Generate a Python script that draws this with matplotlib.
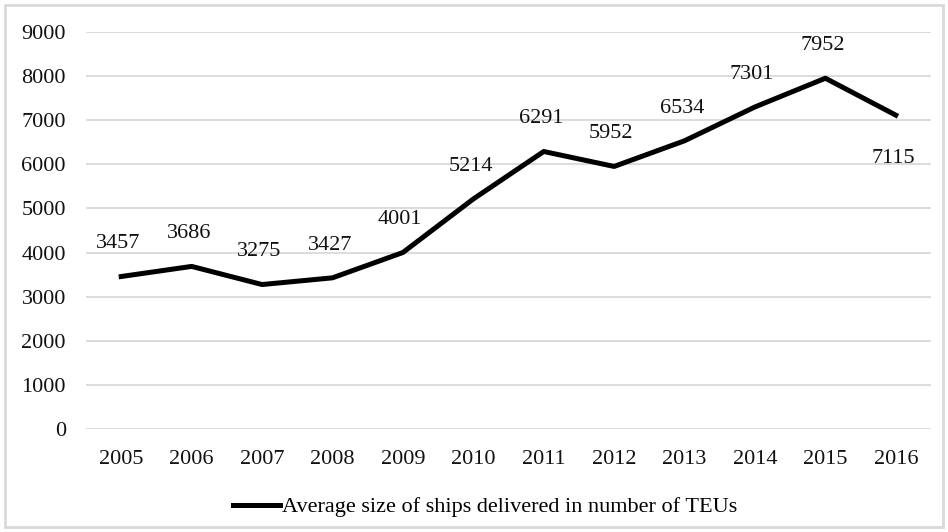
import matplotlib
matplotlib.use("Agg")
import matplotlib.pyplot as plt
from matplotlib.patches import Rectangle

years = ["2005", "2006", "2007", "2008", "2009", "2010", "2011", "2012", "2013", "2014", "2015", "2016"]
avg_size = [3457, 3686, 3275, 3427, 4001, 5214, 6291, 5952, 6534, 7301, 7952, 7115]
label_below = [False] * 11 + [True]
series_name = "Average size of ships delivered in number of TEUs"

plt.rcParams['font.family'] = ['Liberation Serif', 'DejaVu Serif']
FS = 16

W, H = 948, 532
fig = plt.figure(figsize=(W / 100, H / 100), dpi=100)
ax = fig.add_axes([86 / W, 1 - 429 / H, (931 - 86) / W, (429 - 32) / H])

x = list(range(len(years)))
line, = ax.plot(x, avg_size, color='black', lw=3.6, solid_joinstyle='round', label=series_name, zorder=3)

for xi, v, below in zip(x, avg_size, label_below):
    dy = -31 if below else 23.5
    ax.annotate(str(v), (xi, v), xytext=(-2, dy), textcoords='offset points',
                ha='center', va='center', fontsize=FS, color='#111111')

ax.set_xlim(-0.5, len(years) - 0.5)
ax.set_ylim(0, 9000)
ax.set_yticks(range(0, 9001, 1000))
ax.set_xticks(x)
ax.set_xticklabels(years)
ax.grid(axis='y', color='#d9d9d9', lw=1.3)
ax.set_axisbelow(True)
for s in ax.spines.values():
    s.set_visible(False)
ax.tick_params(axis='both', length=0, labelsize=FS, colors='#111111')
ax.tick_params(axis='y', pad=14.5)
ax.tick_params(axis='x', pad=15)

fig.legend(handles=[line], labels=[series_name], loc='center', bbox_to_anchor=(485 / W, 1 - 507 / H),
           frameon=False, fontsize=FS, handlelength=2.1, handletextpad=0.1)

fig.patches.append(Rectangle((5 / W, 5 / H), (943 - 5) / W, (527 - 5) / H, transform=fig.transFigure,
                             fill=False, edgecolor='#d9d9d9', lw=2))

fig.savefig("out.png", dpi=100)
